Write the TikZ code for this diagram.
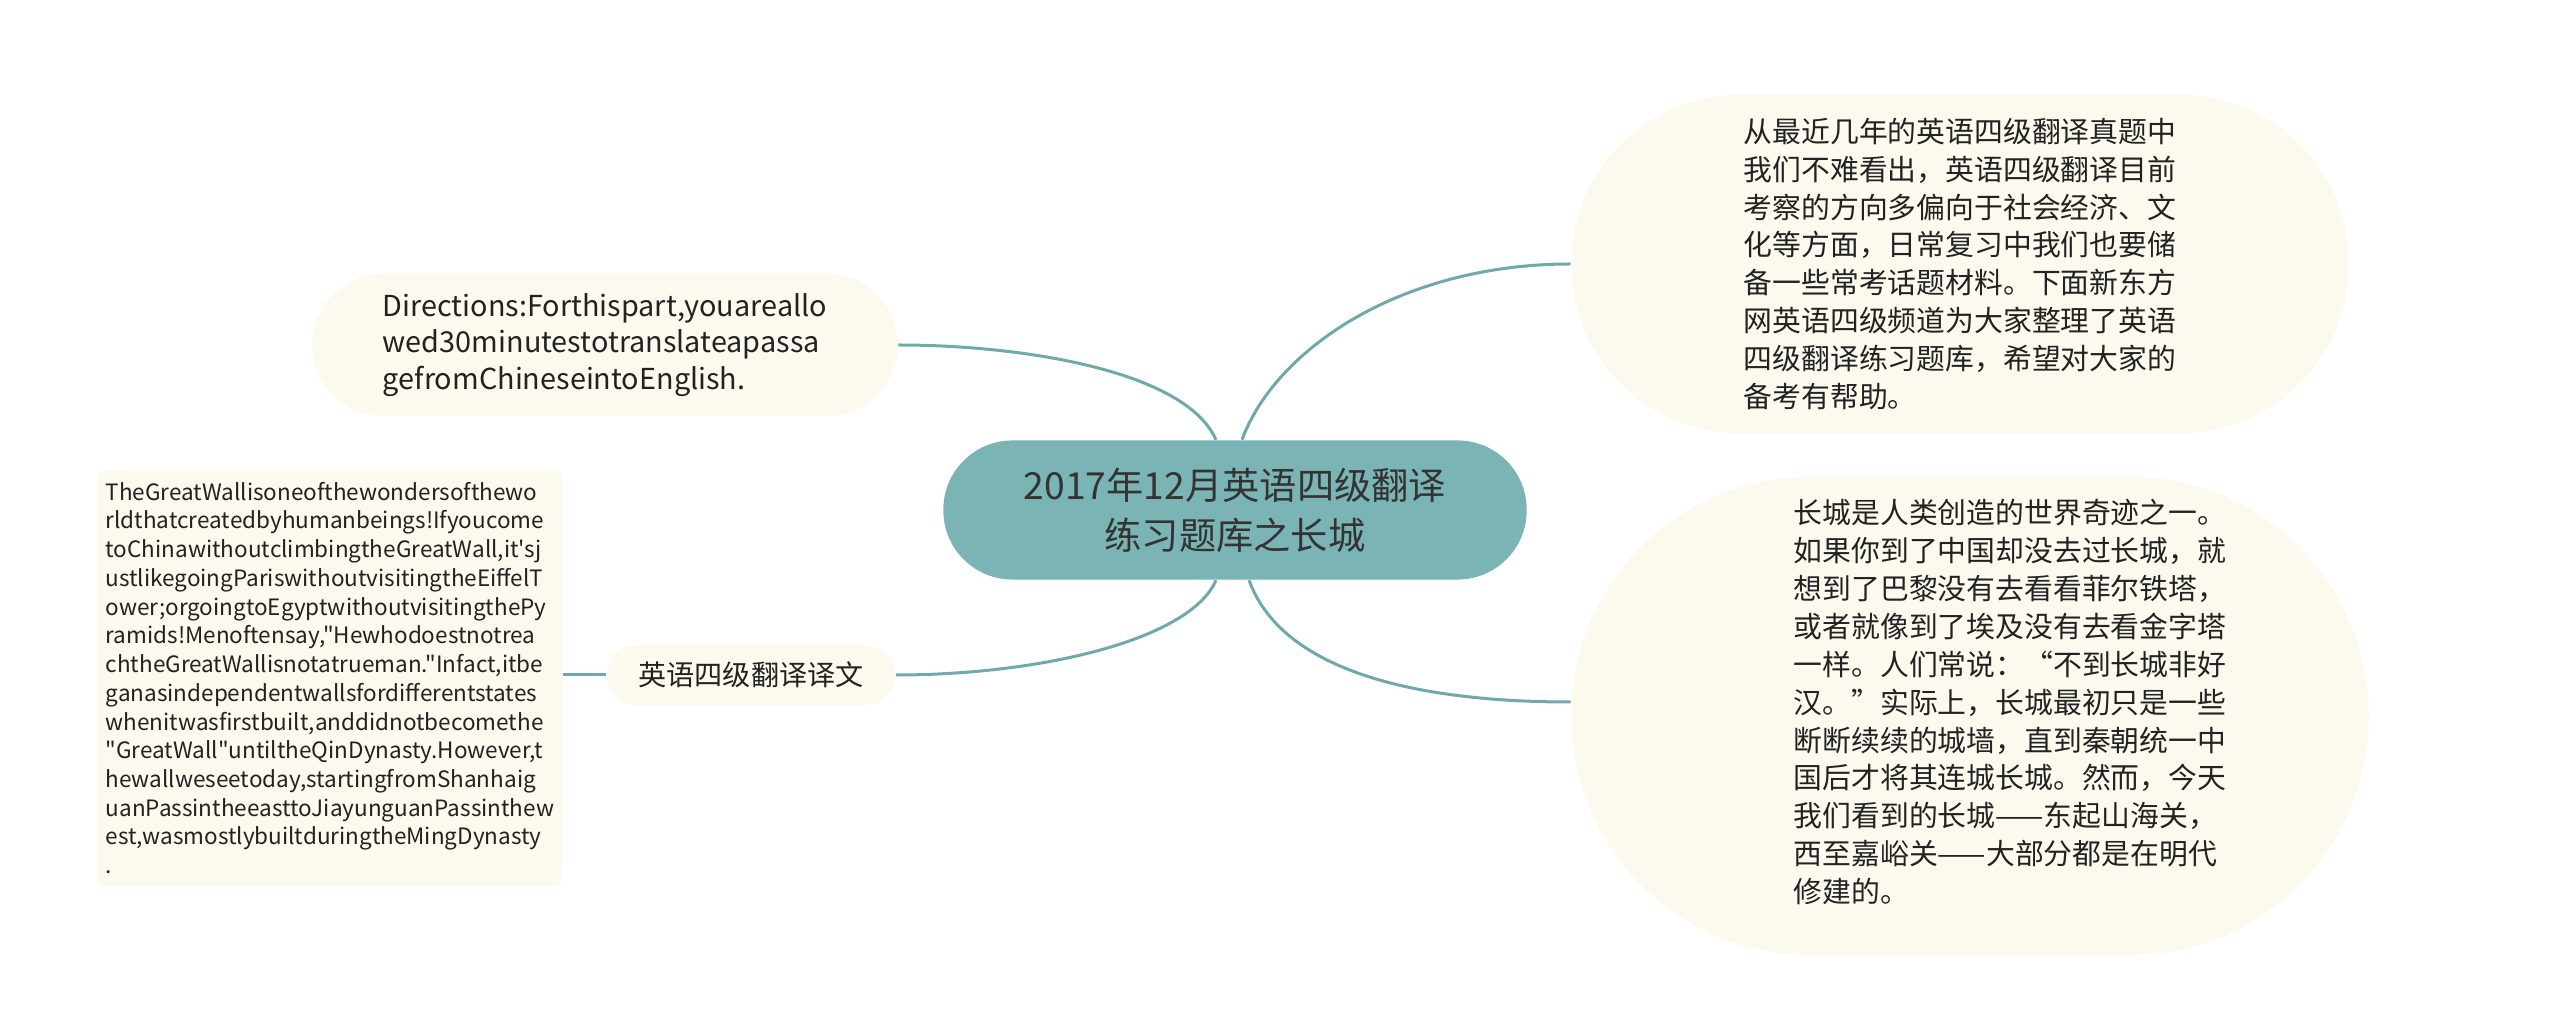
\documentclass[tikz,border=0pt]{standalone}
\usepackage{fontspec}
\newfontfamily\yh{Noto Sans CJK SC}
\usepackage{tikz}
\definecolor{rootfill}{HTML}{7AB4B5}
\definecolor{linkcol}{HTML}{6FA9AC}
\definecolor{creamfill}{HTML}{FCFAEF}
\definecolor{inkcol}{HTML}{222222}
\tikzstyle{link} = [draw=linkcol, line width=0.03cm]
\tikzstyle{bubble} = [fill=creamfill, text=inkcol, align=left, inner sep=2pt]

\begin{document}
\begin{tikzpicture}[x=0.01cm, y=-0.01cm,
    root/.style={fill=rootfill, text=black!80, align=center, rounded corners=0.69cm,
      minimum width=5.83cm, minimum height=1.39cm,
      font=\yh\fontsize{10.6}{14.2}\selectfont},
    bigtext/.style={text=inkcol, align=left, font=\yh\fontsize{8.2}{10.8}\selectfont}]

      \useasboundingbox (0,0) rectangle (2560,1022);

      % Nodes
      \node[root] (R) at (1235,510) {2017年12月英语四级翻译\\练习题库之长城};
      \node[bubble, bigtext, minimum width=7.77cm, minimum height=3.38cm, rounded corners=1.68cm] (T1) at (1960,264)
        {从最近几年的英语四级翻译真题中\\我们不难看出，英语四级翻译目前\\考察的方向多偏向于社会经济、文\\化等方面，日常复习中我们也要储\\备一些常考话题材料。下面新东方\\网英语四级频道为大家整理了英语\\四级翻译练习题库，希望对大家的\\备考有帮助。};
      \node[bubble, minimum width=7.97cm, minimum height=4.78cm, rounded corners=2.38cm] (T2) at (1970,716) {};
      \node[bigtext] (T2text) at (2010,702)
        {长城是人类创造的世界奇迹之一。\\如果你到了中国却没去过长城，就\\想到了巴黎没有去看看菲尔铁塔，\\或者就像到了埃及没有去看金字塔\\一样。人们常说：“不到长城非好\\汉。”实际上，长城最初只是一些\\断断续续的城墙，直到秦朝统一中\\国后才将其连城长城。然而，今天\\我们看到的长城——东起山海关，\\西至嘉峪关——大部分都是在明代\\修建的。};
      \node[bubble, minimum width=5.85cm, minimum height=1.42cm, rounded corners=0.7cm,
        font=\yh\fontsize{8.2}{10.4}\selectfont] (D) at (605,345)
        {Directions:Forthispart,youareallo\\wed30minutestotranslateapassa\\gefromChineseintoEnglish.};
      \node[bubble, minimum width=2.88cm, minimum height=0.6cm, rounded corners=0.3cm,
        font=\yh\fontsize{8}{9.6}\selectfont] (Y) at (751,675) {英语四级翻译译文};
      \node[bubble, minimum width=4.65cm, minimum height=4.17cm, rounded corners=0.1cm,
        font=\yh\fontsize{6.4}{8.17}\selectfont] (E) at (330,678)
        {TheGreatWallisoneofthewondersofthewo\\rldthatcreatedbyhumanbeings!Ifyoucome\\toChinawithoutclimbingtheGreatWall,it'sj\\ustlikegoingPariswithoutvisitingtheEiffelT\\ower;orgoingtoEgyptwithoutvisitingthePy\\ramids!Menoftensay,"Hewhodoestnotrea\\chtheGreatWallisnotatrueman."Infact,itbe\\ganasindependentwallsfordifferentstates\\whenitwasfirstbuilt,anddidnotbecomethe\\"GreatWall"untiltheQinDynasty.However,t\\hewallweseetoday,startingfromShanhaig\\uanPassintheeasttoJiayunguanPassinthew\\est,wasmostlybuiltduringtheMingDynasty\\.};

      % Edges
      \draw[link] ([xshift=-0.19cm]R.north) .. controls (1185,370) and (1020,345) .. (D.east);
      \draw[link] ([xshift=0.07cm]R.north) .. controls (1275,350) and (1400,264) .. (T1.west);
      \draw[link] ([xshift=-0.19cm]R.south) .. controls (1190,640) and (1040,675) .. (Y.east);
      \draw[link] ([xshift=0.14cm]R.south) .. controls (1280,665) and (1400,702) .. ([yshift=0.14cm]T2.west);
      \draw[link] (Y.west) -- (Y.west -| E.east);

\end{tikzpicture}
\end{document}
